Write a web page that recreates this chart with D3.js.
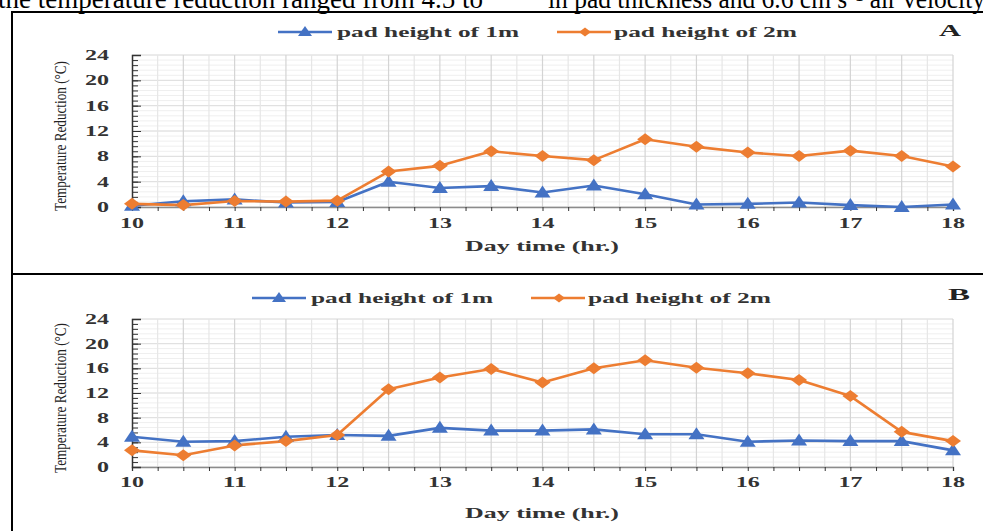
<!DOCTYPE html>
<html>
<head>
<meta charset="utf-8">
<script src="https://cdn.jsdelivr.net/npm/d3@7/dist/d3.min.js"></script>
<style>
  html, body { margin: 0; padding: 0; background: #fff; overflow: hidden; }
  svg { display: block; }
</style>
</head>
<body>
<svg id="chart" width="983" height="531"></svg>
<script>
// Day time (hours) at which readings were taken
const hours = [10, 10.5, 11, 11.5, 12, 12.5, 13, 13.5, 14, 14.5, 15, 15.5, 16, 16.5, 17, 17.5, 18];

// Panel A: temperature reduction (°C)
const panelA_1m = [0.2, 0.9, 1.2, 0.7, 0.8, 4.0, 3.0, 3.3, 2.3, 3.4, 2.0, 0.4, 0.5, 0.7, 0.3, 0.0, 0.4];
const panelA_2m = [0.5, 0.3, 0.95, 0.85, 1.0, 5.6, 6.5, 8.8, 8.05, 7.4, 10.7, 9.5, 8.6, 8.05, 8.9, 8.05, 6.4];

// Panel B: temperature reduction (°C)
const panelB_1m = [4.9, 4.1, 4.2, 4.9, 5.2, 5.05, 6.35, 5.9, 5.9, 6.1, 5.3, 5.3, 4.1, 4.3, 4.2, 4.2, 2.7];
const panelB_2m = [2.7, 1.9, 3.5, 4.2, 5.2, 12.6, 14.5, 15.9, 13.7, 16.0, 17.3, 16.1, 15.2, 14.1, 11.5, 5.7, 4.2];

const xTickValues = [10, 11, 12, 13, 14, 15, 16, 17, 18];
const yTickValues = [0, 4, 8, 12, 16, 20, 24];
const seriesNames = ["pad height of 1m", "pad height of 2m"];
const seriesColors = ["#4472C4", "#ED7D31"];

const svg = d3.select("#chart");
const serif = "'Liberation Serif', 'Times New Roman', serif";

// Running text above the figure
svg.append("text")
  .attr("x", -2).attr("y", 8)
  .attr("font-family", serif).attr("font-size", 27)
  .attr("textLength", 485).attr("lengthAdjust", "spacingAndGlyphs")
  .text("the temperature reduction ranged from 4.5 to");
svg.append("text")
  .attr("x", 548).attr("y", 8)
  .attr("font-family", serif).attr("font-size", 27)
  .attr("textLength", 437).attr("lengthAdjust", "spacingAndGlyphs")
  .text("in pad thickness and 6.6 cm s\u207B\u00B9 air velocity");

// Panel frames
svg.append("rect").attr("x", 12).attr("y", 12).attr("width", 990).attr("height", 262)
  .attr("fill", "none").attr("stroke", "#000").attr("stroke-width", 2);
svg.append("rect").attr("x", 12).attr("y", 274).attr("width", 990).attr("height", 280)
  .attr("fill", "none").attr("stroke", "#000").attr("stroke-width", 2);

const x = d3.scaleLinear().domain([10, 18]).range([132, 953]);

// wide, short bold label as in the figure's typeface
function wideText(sel, str, size, perChar) {
  return sel.attr("font-family", serif).attr("font-weight", "bold").attr("font-size", size)
    .attr("textLength", perChar * String(str).length).attr("lengthAdjust", "spacingAndGlyphs")
    .attr("fill", "#333").text(str);
}

function drawPanel(opts) {
  const { y, s1, s2, letter, legendY, legendX1, legendX2, letterX, letterY, xTitleY, xLabelDy } = opts;
  const g = svg.append("g");

  // minor horizontal grid (every 0.8 °C)
  const minorY = d3.range(0, 24.01, 0.8);
  g.selectAll(".hminor").data(minorY).join("line")
    .attr("x1", x(10)).attr("x2", x(18))
    .attr("y1", d => y(d)).attr("y2", d => y(d))
    .attr("stroke", "#efefef").attr("stroke-width", 1);
  g.selectAll(".hmajor").data(yTickValues).join("line")
    .attr("x1", x(10)).attr("x2", x(18))
    .attr("y1", d => y(d)).attr("y2", d => y(d))
    .attr("stroke", "#dedede").attr("stroke-width", 1);

  // vertical grid every quarter hour
  const quarters = d3.range(10.25, 18.01, 0.25);
  g.selectAll(".vgrid").data(quarters).join("line")
    .attr("x1", d => x(d)).attr("x2", d => x(d))
    .attr("y1", y(0)).attr("y2", y(24))
    .attr("stroke", d => (Math.abs(d * 2 - Math.round(d * 2)) < 1e-6) ? "#d4d4d4" : "#e6e6e6")
    .attr("stroke-width", 1.2);

  // x axis
  const xAxis = d3.axisBottom(x).tickValues(d3.range(10, 18.01, 0.25)).tickSize(4).tickFormat("");
  const xg = g.append("g").attr("transform", `translate(0,${y(0)})`).call(xAxis);
  xg.select(".domain").attr("stroke", "#8c8c8c").attr("stroke-width", 1.5);
  xg.selectAll(".tick line").attr("stroke", "#333").attr("stroke-width", 1);

  g.selectAll(".xlab").data(xTickValues).join("text")
    .attr("x", d => x(d)).attr("y", y(0) + xLabelDy)
    .attr("text-anchor", "middle")
    .each(function (d) { wideText(d3.select(this), d, 14, 12); });

  // y axis with minor ticks
  const yMinor = d3.axisRight(y).tickValues(minorY).tickSize(6).tickFormat("");
  const ymg = g.append("g").attr("transform", `translate(${x(10)},0)`).call(yMinor);
  ymg.select(".domain").remove();
  ymg.selectAll(".tick line").attr("stroke", "#333");
  const yMajor = d3.axisRight(y).tickValues(yTickValues).tickSize(9).tickFormat("");
  const yg = g.append("g").attr("transform", `translate(${x(10)},0)`).call(yMajor);
  yg.select(".domain").attr("stroke", "#333").attr("stroke-width", 1.5);
  yg.selectAll(".tick line").attr("stroke", "#333");

  g.selectAll(".ylab").data(yTickValues).join("text")
    .attr("x", 109).attr("y", d => y(d) + 5)
    .attr("text-anchor", "end")
    .each(function (d) { wideText(d3.select(this), d, 14, 12); });

  // y axis title
  const midY = (y(0) + y(24)) / 2 + 5;
  g.append("text")
    .attr("transform", `translate(66,${midY}) rotate(-90)`)
    .attr("text-anchor", "middle")
    .attr("font-family", serif).attr("font-size", 16)
    .attr("textLength", 150).attr("lengthAdjust", "spacingAndGlyphs")
    .attr("fill", "#222")
    .text("Temperature Reduction (\u00B0C)");

  // x axis title
  wideText(g.append("text").attr("x", 542).attr("y", xTitleY).attr("text-anchor", "middle"),
    "Day time (hr.)", 14, 11);

  // series lines
  const line = d3.line().x((d, i) => x(hours[i])).y(d => y(d));
  [s1, s2].forEach((vals, k) => {
    g.append("path").datum(vals)
      .attr("d", line)
      .attr("fill", "none")
      .attr("stroke", seriesColors[k])
      .attr("stroke-width", 2.6)
      .attr("stroke-linejoin", "round");
  });

  // markers: triangles for 1m, diamonds for 2m
  g.selectAll(".tri").data(s1).join("path")
    .attr("d", "M0,-7L8,5L-8,5Z")
    .attr("transform", (d, i) => `translate(${x(hours[i])},${y(d)})`)
    .attr("fill", seriesColors[0]);
  g.selectAll(".dia").data(s2).join("path")
    .attr("d", "M0,-6L8,0L0,6L-8,0Z")
    .attr("transform", (d, i) => `translate(${x(hours[i])},${y(d)})`)
    .attr("fill", seriesColors[1]);

  // legend
  const lg = svg.append("g");
  lg.append("line").attr("x1", legendX1).attr("x2", legendX1 + 54)
    .attr("y1", legendY).attr("y2", legendY)
    .attr("stroke", seriesColors[0]).attr("stroke-width", 2.6);
  lg.append("path").attr("d", "M0,-6L7,4L-7,4Z")
    .attr("transform", `translate(${legendX1 + 27},${legendY})`)
    .attr("fill", seriesColors[0]);
  lg.append("text").attr("x", legendX1 + 59).attr("y", legendY + 5)
    .attr("font-family", serif).attr("font-weight", "bold").attr("font-size", 15)
    .attr("textLength", 182).attr("lengthAdjust", "spacingAndGlyphs")
    .attr("fill", "#333")
    .text(seriesNames[0]);

  lg.append("line").attr("x1", legendX2).attr("x2", legendX2 + 54)
    .attr("y1", legendY).attr("y2", legendY)
    .attr("stroke", seriesColors[1]).attr("stroke-width", 2.6);
  lg.append("path").attr("d", "M0,-4.5L6,0L0,4.5L-6,0Z")
    .attr("transform", `translate(${legendX2 + 28},${legendY})`)
    .attr("fill", seriesColors[1]);
  lg.append("text").attr("x", legendX2 + 57).attr("y", legendY + 5)
    .attr("font-family", serif).attr("font-weight", "bold").attr("font-size", 15)
    .attr("textLength", 183).attr("lengthAdjust", "spacingAndGlyphs")
    .attr("fill", "#333")
    .text(seriesNames[1]);

  // panel letter
  svg.append("text").attr("x", letterX).attr("y", letterY)
    .attr("text-anchor", "middle")
    .attr("font-family", serif).attr("font-weight", "bold").attr("font-size", 16)
    .attr("textLength", 22).attr("lengthAdjust", "spacingAndGlyphs")
    .attr("fill", "#222")
    .text(letter);
}

drawPanel({
  y: d3.scaleLinear().domain([0, 24]).range([207, 55]),
  s1: panelA_1m, s2: panelA_2m, letter: "A",
  legendY: 32, legendX1: 278, legendX2: 557, letterX: 950, letterY: 36,
  xTitleY: 251, xLabelDy: 21
});

drawPanel({
  y: d3.scaleLinear().domain([0, 24]).range([467, 319]),
  s1: panelB_1m, s2: panelB_2m, letter: "B",
  legendY: 298, legendX1: 252, legendX2: 531, letterX: 959, letterY: 300,
  xTitleY: 518, xLabelDy: 20
});
</script>
</body>
</html>
